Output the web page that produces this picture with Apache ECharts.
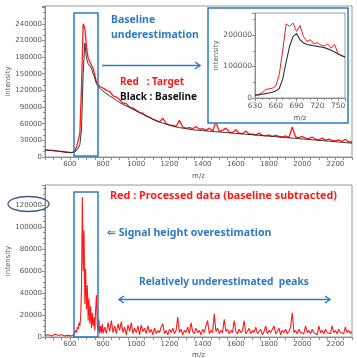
<!DOCTYPE html>
<html>
<head>
<meta charset="utf-8">
<title>baseline</title>
<style>
	html,body{margin:0;padding:0;background:#fff;}
	#chart{width:357px;height:358px;}
</style>
</head>
<body>
<div id="chart"></div>
<script src="https://cdn.jsdelivr.net/npm/echarts@6.0.0/dist/echarts.min.js"></script>
<script>
// ---- top panel: target (red) and baseline (black), values in thousands ----
var mzTop = [450,470,490,510,530,550,570,590,610,
	620,630,640,650,660,670,680,690,700,710,720,730,740,750,760,770,780,790,
	800,820,840,860,880,900,920,940,960,980,
	1000,1020,1040,1060,1080,1100,1120,1140,1160,1180,
	1200,1220,1240,1260,1280,1300,1320,1340,1360,1380,
	1400,1420,1440,1460,1480,1500,1520,1540,1560,1580,
	1600,1620,1640,1660,1680,1700,1720,1740,1760,1780,
	1800,1820,1840,1860,1880,1900,1920,1940,1960,1980,
	2000,2020,2040,2060,2080,2100,2120,2140,2160,2180,
	2200,2220,2240,2260,2280,2300];
var targetK = [13,12.5,12,11.5,10.5,10,9,8.5,8,
	8.5,10,18,30,42,125,240,232,198,178,172,165,160,148,135,132,127,126,
	124,120,118,110,108,103,97,96,90,88,
	84,80,79,74,72,68,66,63,70,60,
	58,57,55,66,54,52,53,51,55,50,
	51,48,52,47,63,46,48,52,45,44,
	49,43,42,47,41,41,40,43,39,38,
	40,37,39,37,36,38,35,54,36,35,
	37,34,33,36,32,31,34,30,32,30,
	29,31,28,32,27,27];
var baselineK = [12.5,12,11.5,11,10.5,9.5,9,8.5,8,
	8,9,11,16,22,50,150,205,178,168,164,160,150,142,132,127,124,121,
	118,114,110,106,102,98,95,92,89,86,
	83,80,77,74,71,68,65,63,61,59,
	57,55.5,54,53,52,51,50,49,48.5,48,
	47.5,47,46.5,46,45.5,45,44.5,44,43.5,43,
	42.5,42,41.5,41,40.5,40,39.5,39,38.5,38,
	37.5,37,36.5,36,35.5,35,34.5,34,33.5,33,
	32.5,32,31.5,31,30.5,30,29.5,29,28.5,28,
	27.5,27,26.5,26,25.5,25];

// ---- inset (zoom on 630-760) ----
var mzInset = [630,635,640,645,650,655,660,665,670,675,680,685,690,695,700,705,710,715,720,725,730,735,740,745,750,755,760];
var insetTargetK = [9,11,17,27,29,31,38,74,150,235,228,238,212,230,195,180,185,172,176,168,165,172,158,170,140,134,130];
var insetBaselineK = [9,10,12,14,16,18,22,30,60,115,165,195,205,185,175,170,168,166,164,162,160,156,152,146,140,135,130];

// ---- bottom panel: processed data (baseline subtracted) ----
var mzBottom = [450,470,490,510,530,550,570,590,610,
	620,625,630,635,640,645,650,655,660,665,670,675,680,685,690,695,700,705,710,715,
	720,725,730,735,740,745,750,755,760,765,770,775,780,785,790,795,800,
	810,820,830,840,850,860,870,880,890,900,
	910,920,930,940,950,960,970,980,990,1000,
	1010,1020,1030,1040,1050,1060,1070,1080,1090,1100,
	1110,1120,1130,1140,1150,1160,1170,1180,1190,1200,
	1210,1220,1230,1240,1250,1260,1270,1280,1290,1300,
	1310,1320,1330,1340,1350,1360,1370,1380,1390,1400,
	1410,1420,1430,1440,1450,1460,1470,1480,1490,1500,
	1510,1520,1530,1540,1550,1560,1570,1580,1590,1600,
	1610,1620,1630,1640,1650,1660,1670,1680,1690,1700,
	1710,1720,1730,1740,1750,1760,1770,1780,1790,1800,
	1810,1820,1830,1840,1850,1860,1870,1880,1890,1900,
	1910,1920,1930,1940,1950,1960,1970,1980,1990,2000,
	2010,2020,2030,2040,2050,2060,2070,2080,2090,2100,
	2110,2120,2130,2140,2150,2160,2170,2180,2190,2200,
	2210,2220,2230,2240,2250,2260,2270,2280,2290,2300];
var processedK = [1.5,2,1,2.5,1.5,2,1,1.5,1,
	1,2,3,6,4,9,7,13,10,18,45,127,60,97,30,62,25,47,15,35,
	12,28,8,22,10,18,6,25,38,12,5,16,3,10,4,12,3,
	9,3,13,5,15,4,10,3,12,6,
	14,4,9,2,11,5,13,3,8,4,
	10,2,11,5,8,3,10,4,7,2,
	8,3,6,4,9,12,3,6,2,7,
	4,8,3,6,18,4,7,2,6,4,
	9,3,13,5,3,8,4,6,2,7,
	4,10,15,3,6,4,21,5,8,3,
	6,4,16,5,7,3,6,4,15,5,
	3,7,4,6,15,3,5,8,3,6,
	4,9,3,5,7,2,5,10,3,6,
	4,7,10,3,5,8,2,6,4,7,
	3,5,9,22,4,6,3,7,4,5,
	3,10,4,6,3,7,4,5,2,10,
	4,6,3,7,4,5,3,10,4,6,
	3,7,4,5,3,9,4,6,3,5];

var xLabels = [600,800,1000,1200,1400,1600,1800,2000,2200];
var yLabelsTop = [0,30000,60000,90000,120000,150000,180000,210000,240000];
var yLabelsBottom = [0,20000,40000,60000,80000,100000,120000];
var yLabelsInset = [0,100000,200000];

function pairs(xs, ks){
	var out = [];
	for(var i=0;i<xs.length;i++){ out.push([xs[i], ks[i]*1000]); }
	return out;
}
function only(list){
	return function(v){ return list.indexOf(v)>=0 ? String(v) : ''; };
}

var axisGray = '#8c8c8c', textGray = '#555', blue = '#2e7bc4', red = '#ff1a1a';
var font = 'DejaVu Sans';

function mainX(idx, gap){
	return {
		type:'value', gridIndex:idx, min:450, max:2300, interval:50,
		axisLine:{show:true, lineStyle:{color:axisGray}},
		axisTick:{show:true, length:3, lineStyle:{color:axisGray}},
		axisLabel:{fontSize:7, color:textGray, fontFamily:font, margin:4, formatter:only(xLabels)},
		splitLine:{show:false},
		name:'m/z', nameLocation:'middle', nameGap:gap, nameMoveOverlap:false,
		nameTextStyle:{fontSize:7, color:textGray, fontFamily:font}
	};
}
function mainY(idx, max, step, labels, minorSplit){
	return {
		type:'value', gridIndex:idx, min:0, max:max, interval:step,
		axisLine:{show:true, lineStyle:{color:axisGray}},
		axisTick:{show:true, length:3, lineStyle:{color:axisGray}},
		minorTick:{show:true, splitNumber:minorSplit, length:2, lineStyle:{color:axisGray}},
		axisLabel:{fontSize:7, color:textGray, fontFamily:font, margin:3, formatter:only(labels)},
		splitLine:{show:false},
		name:'intensity', nameLocation:'middle', nameGap:33, nameMoveOverlap:false,
		nameTextStyle:{fontSize:7, color:textGray, fontFamily:font}
	};
}

var chart = echarts.init(document.getElementById('chart'));
var option = {
	animation:false,
	grid:[
		{left:45, top:6, width:307, height:151, show:true, borderColor:'#999', borderWidth:1, outerBoundsMode:'none', containLabel:false},
		{left:45, top:185, width:307, height:152, show:true, borderColor:'#999', borderWidth:1, outerBoundsMode:'none', containLabel:false},
		{left:255, top:13, width:90, height:85, show:true, borderColor:'#999', borderWidth:1, backgroundColor:'#fff', z:4, outerBoundsMode:'none', containLabel:false}
	],
	xAxis:[
		mainX(0, 16),
		mainX(1, 15),
		{
			type:'value', gridIndex:2, min:630, max:760, interval:30, z:4,
			axisLine:{show:true, lineStyle:{color:axisGray}},
			axisTick:{show:true, length:3, lineStyle:{color:axisGray}},
			minorTick:{show:true, splitNumber:3, length:2, lineStyle:{color:axisGray}},
			axisLabel:{fontSize:7.5, color:textGray, fontFamily:font, margin:4, showMaxLabel:false},
			splitLine:{show:false},
			name:'m/z', nameLocation:'middle', nameGap:17, nameMoveOverlap:false,
			nameTextStyle:{fontSize:7, color:textGray, fontFamily:font}
		}
	],
	yAxis:[
		mainY(0, 272000, 30000, yLabelsTop, 3),
		mainY(1, 138000, 20000, yLabelsBottom, 4),
		{
			type:'value', gridIndex:2, min:0, max:270000, interval:100000, z:4,
			axisLine:{show:true, lineStyle:{color:axisGray}},
			axisTick:{show:true, length:3, lineStyle:{color:axisGray}},
			minorTick:{show:true, splitNumber:2, length:2, lineStyle:{color:axisGray}},
			axisLabel:{fontSize:7.5, color:textGray, fontFamily:font, margin:3, formatter:only(yLabelsInset)},
			splitLine:{show:false},
			name:'intensity', nameLocation:'middle', nameGap:35, nameMoveOverlap:false,
			nameTextStyle:{fontSize:7, color:textGray, fontFamily:font}
		}
	],
	series:[
		{type:'line', xAxisIndex:0, yAxisIndex:0, data:pairs(mzTop, targetK), showSymbol:false, z:2,
			lineStyle:{color:red, width:1.3}},
		{type:'line', xAxisIndex:0, yAxisIndex:0, data:pairs(mzTop, baselineK), showSymbol:false, z:2,
			lineStyle:{color:'#222', width:0.9}},
		{type:'line', xAxisIndex:1, yAxisIndex:1, data:pairs(mzBottom, processedK), showSymbol:false, z:2,
			lineStyle:{color:red, width:1.1}},
		{type:'line', xAxisIndex:2, yAxisIndex:2, data:pairs(mzInset, insetTargetK), showSymbol:false, z:6,
			lineStyle:{color:red, width:1}},
		{type:'line', xAxisIndex:2, yAxisIndex:2, data:pairs(mzInset, insetBaselineK), showSymbol:false, z:6,
			lineStyle:{color:'#333', width:1.1}}
	],
	graphic:[
		// inset frame
		{type:'rect', z:3, shape:{x:208, y:8, width:140, height:115},
			style:{fill:'#fff', stroke:blue, lineWidth:1.5}},
		// zoom boxes
		{type:'rect', z:10, shape:{x:74, y:13, width:24, height:143},
			style:{fill:null, stroke:blue, lineWidth:1.5}},
		{type:'rect', z:10, shape:{x:74, y:192, width:24, height:145},
			style:{fill:null, stroke:blue, lineWidth:1.5}},
		// arrows
		{type:'line', z:10, shape:{x1:102, y1:65.5, x2:200, y2:65.5}, style:{stroke:blue, lineWidth:1.5}},
		{type:'polyline', z:10, shape:{points:[[195,62],[200,65.5],[195,69]]}, style:{fill:null, stroke:blue, lineWidth:1.5}},
		{type:'line', z:10, shape:{x1:119, y1:299.5, x2:330, y2:299.5}, style:{stroke:blue, lineWidth:1.5}},
		{type:'polyline', z:10, shape:{points:[[124,296],[119,299.5],[124,303]]}, style:{fill:null, stroke:blue, lineWidth:1.5}},
		{type:'polyline', z:10, shape:{points:[[325,296],[330,299.5],[325,303]]}, style:{fill:null, stroke:blue, lineWidth:1.5}},
		// ellipse round the 120000 label
		{type:'ellipse', z:10, shape:{cx:28.5, cy:204, rx:20.5, ry:7.5}, style:{fill:null, stroke:'#3d5a8a', lineWidth:1.3}},
		// texts
		{type:'text', z:10, x:111, y:20, style:{text:'Baseline', fill:blue, font:'bold 10.5px "Noto Sans", "DejaVu Sans"', verticalAlign:'middle'}},
		{type:'text', z:10, x:111, y:35, style:{text:'underestimation', fill:blue, font:'bold 10.5px "Noto Sans", "DejaVu Sans"', verticalAlign:'middle'}},
		{type:'text', z:10, x:120, y:82, style:{text:'Red   : Target', fill:red, font:'bold 10px "Noto Sans", "DejaVu Sans"', verticalAlign:'middle'}},
		{type:'text', z:10, x:120, y:97, style:{text:'Black : Baseline', fill:'#111', font:'bold 10px "Noto Sans", "DejaVu Sans"', verticalAlign:'middle'}},
		{type:'text', z:10, x:110, y:196, style:{text:'Red : Processed data (baseline subtracted)', fill:red, font:'bold 10.8px "Noto Sans", "DejaVu Sans"', verticalAlign:'middle'}},
		{type:'text', z:10, x:107, y:233, style:{text:'\u21d0 Signal height overestimation', fill:blue, font:'bold 10.6px "Noto Sans", "DejaVu Sans"', verticalAlign:'middle'}},
		{type:'text', z:10, x:139, y:282, style:{text:'Relatively underestimated  peaks', fill:blue, font:'bold 10.2px "Noto Sans", "DejaVu Sans"', verticalAlign:'middle'}}
	]
};
chart.setOption(option);
</script>
</body>
</html>
